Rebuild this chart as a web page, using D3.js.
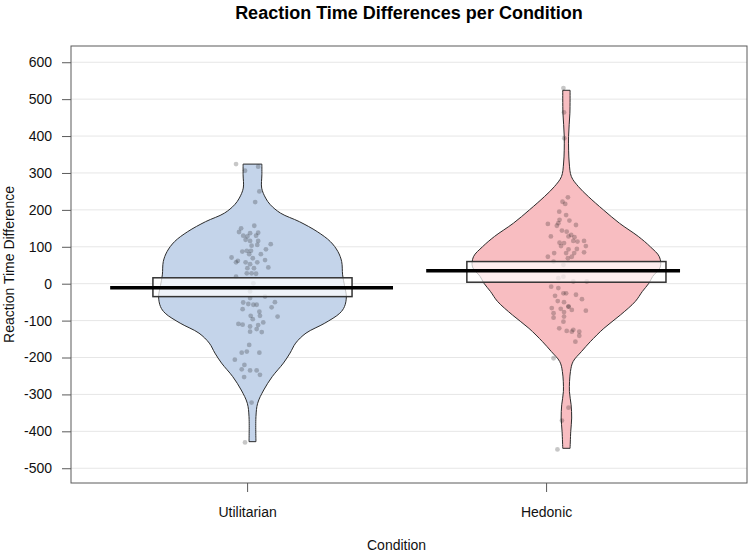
<!DOCTYPE html>
<html>
<head>
<meta charset="utf-8">
<script src="https://cdn.jsdelivr.net/npm/d3@7"></script>
<style>
    body { margin: 0; background: #fff; }
    svg { display: block; font-family: "Liberation Sans", Arial, sans-serif; }
</style>
</head>
<body>
<div id="container"></div>
<script>
// data

const conditions = ['Utilitarian', 'Hedonic']
const yTicks = [600, 500, 400, 300, 200, 100, 0, -100, -200, -300, -400, -500]

const means = [-11, 35]
const infLow = [-35, 4]
const infHigh = [16, 60]

// bean outline: [value, relative density]
const utilDensity = [
    [324, 0.10], [295, 0.10], [259, 0.098], [232, 0.14], [214, 0.19], [191, 0.30],
    [168, 0.50], [141, 0.69], [114, 0.83], [87, 0.91], [60, 0.95], [24, 0.96],
    [-5, 0.98], [-35, 1.0], [-62, 0.98], [-80, 0.93], [-107, 0.77], [-134, 0.57],
    [-161, 0.46], [-188, 0.40], [-215, 0.33], [-252, 0.21], [-288, 0.12],
    [-324, 0.055], [-360, 0.037], [-428, 0.037]
]
const hedDensity = [
    [524, 0.039], [462, 0.037], [399, 0.023], [327, 0.03], [290, 0.053], [263, 0.128],
    [236, 0.234], [200, 0.394], [164, 0.564], [128, 0.766], [100, 0.894], [73, 0.99],
    [45, 1.0], [20, 0.92], [1, 0.878], [-21, 0.809], [-48, 0.734], [-85, 0.574],
    [-121, 0.399], [-157, 0.255], [-184, 0.16], [-211, 0.071], [-238, 0.043],
    [-292, 0.032], [-328, 0.05], [-364, 0.056], [-401, 0.046], [-446, 0.039]
]

// raw observations and their horizontal jitter (category units)
const utilValues = [
    324, 306, 317, 250, 221, 157, 150, 140, 137, 138, 130, 128, 130, 119, 116, 116,
    103, 105, 107, 93, 87, 89, 89, 80, 80, 71, 69, 62, 58, 58, 58, 53, 64, 44, 42, 42,
    28, 28, 27, 19, 1, -21, -35, -39, -51, -55, -57, -57, -50, -69, -64, -76, -87, -87,
    -89, -96, -109, -111, -116, -112, -105, -123, -130, -131, -166, -187, -184, -187,
    -206, -220, -232, -235, -235, -247, -253, -322, -430
]
const utilJitter = [
    -0.055, -0.025, 0.019, 0.023, 0.009, 0.006, -0.038, -0.045, -0.008, 0.019, -0.031, -0.017,
    0.012, -0.023, -0.008, 0.019, -0.003, 0.016, 0.061, 0.045, -0.034, -0.019, -0.005, -0.011,
    0.028, -0.070, 0.001, -0.049, -0.055, -0.023, 0.016, -0.008, 0.042, 0.053, -0.017, 0.005,
    -0.019, -0.003, 0.012, -0.055, 0.003, -0.008, 0.042, -0.008, -0.031, -0.014, 0.003, 0.014,
    0.075, -0.033, 0.064, 0.023, -0.006, 0.025, 0.084, 0.001, -0.047, -0.033, -0.008, 0.019,
    0.036, 0.014, -0.008, 0.031, -0.011, -0.036, -0.019, 0.023, -0.059, -0.027, -0.036, -0.008,
    0.014, 0.025, -0.028, -0.003, -0.025
]
const hedValues = [
    530, 464, 394, 234, 222, 216, 195, 186, 173, 171, 162, 164, 157, 159, 144, 141,
    128, 132, 128, 126, 111, 110, 114, 116, 116, 102, 102, 94, 93, 83, 73, 83, 83, 85,
    73, 69, 51, 60, 19, 6, 6, 15, -8, -12, -26, -26, -30, -33, -42, -47, -50, -62, -62,
    -66, -68, -71, -73, -80, -77, -92, -89, -103, -121, -128, -130, -125, -130, -141,
    -157, -202, -336, -371, -449
]
const hedJitter = [
    -0.010, -0.008, -0.007, 0.005, -0.013, -0.004, -0.024, -0.001, -0.023, 0.010, -0.062, -0.027,
    -0.032, 0.032, -0.015, 0.001, -0.052, 0.016, 0.007, 0.027, -0.023, -0.008, 0.037, 0.023,
    0.059, -0.018, 0.065, 0.035, 0.007, -0.041, -0.062, -0.001, 0.026, 0.059, 0.018, 0.005,
    -0.010, -0.043, -0.010, 0.023, 0.068, -0.027, -0.051, -0.027, -0.010, -0.001, 0.032, -0.038,
    0.052, -0.029, -0.008, 0.007, 0.007, -0.049, -0.019, 0.018, 0.065, -0.043, -0.008, -0.043,
    -0.008, -0.010, -0.024, 0.001, 0.018, 0.023, 0.043, 0.043, 0.030, -0.043, 0.007, -0.015,
    -0.030
]

const densities = [utilDensity, hedDensity]
const values = [utilValues, hedValues]
const jitters = [utilJitter, hedJitter]

// chart

const width = 749
const height = 554
const box = { left: 71, right: 747, top: 46, bottom: 483 }

const fills = ['#c4d4ea', '#f8bdc1']
const beanShift = [0.018, 0.068]   // beans sit a little right of their ticks
const beanWidth = 0.314
const infWidth = 0.333
const avgExtent = [[-0.458, 0.488], [-0.401, 0.448]]

const svg = d3.select('#container').append('svg')
    .attr('width', width).attr('height', height)

const x = d3.scaleLinear().domain([0.411, 2.672]).range([box.left, box.right])
const y = d3.scaleLinear().domain([-540, 644]).range([box.bottom, box.top])

// grid
svg.append('g').selectAll('line')
    .data(yTicks)
    .enter()
    .append('line')
    .attr('x1', box.left).attr('x2', box.right)
    .attr('y1', d => y(d)).attr('y2', d => y(d))
    .attr('stroke', '#e6e6e6')
    .attr('stroke-width', 1)

const groups = svg.append('g').selectAll('g')
    .data(conditions)
    .enter()
    .append('g')

groups.each(function (name, i) {
    const g = d3.select(this)
    const cx = i + 1 + beanShift[i]

    const bean = d3.area()
        .curve(d3.curveCatmullRom)
        .y(d => y(d[0]))
        .x0(d => x(cx - d[1] * beanWidth))
        .x1(d => x(cx + d[1] * beanWidth))

    g.append('path')
        .attr('d', bean(densities[i]))
        .attr('fill', fills[i])
        .attr('stroke', '#2b2b2b')
        .attr('stroke-width', 1)

    g.append('g').selectAll('circle')
        .data(values[i])
        .enter()
        .append('circle')
        .attr('cx', (d, k) => x(cx + jitters[i][k]))
        .attr('cy', d => y(d))
        .attr('r', 2.4)
        .attr('fill', '#000')
        .attr('fill-opacity', 0.22)

    g.append('rect')
        .attr('x', x(cx - infWidth))
        .attr('y', y(infHigh[i]))
        .attr('width', x(cx + infWidth) - x(cx - infWidth))
        .attr('height', y(infLow[i]) - y(infHigh[i]))
        .attr('fill', '#fff')
        .attr('fill-opacity', 0.72)
        .attr('stroke', '#333')
        .attr('stroke-width', 1.5)

    g.append('line')
        .attr('x1', x(i + 1 + avgExtent[i][0]))
        .attr('x2', x(i + 1 + avgExtent[i][1]))
        .attr('y1', y(means[i])).attr('y2', y(means[i]))
        .attr('stroke', '#000')
        .attr('stroke-width', 3.5)
})

// frame
svg.append('rect')
    .attr('x', box.left).attr('y', box.top)
    .attr('width', box.right - box.left)
    .attr('height', box.bottom - box.top)
    .attr('fill', 'none')
    .attr('stroke', '#5a5a5a')
    .attr('stroke-width', 1)

// axes
const yAxis = d3.axisLeft(y).tickValues(yTicks).tickSize(9).tickPadding(10)
    .tickFormat(d => String(d))
const yg = svg.append('g')
    .attr('transform', `translate(${box.left}, 0)`)
    .call(yAxis)
yg.select('.domain').remove()
yg.selectAll('line').attr('stroke', '#5a5a5a')
yg.selectAll('text').attr('font-size', 14).attr('font-family', null).attr('fill', '#111')

const xAxis = d3.axisBottom(x).tickValues([1, 2]).tickSize(9).tickPadding(15)
    .tickFormat(d => conditions[d - 1])
const xg = svg.append('g')
    .attr('transform', `translate(0, ${box.bottom})`)
    .call(xAxis)
xg.select('.domain').remove()
xg.selectAll('line').attr('stroke', '#5a5a5a')
xg.selectAll('text').attr('font-size', 14).attr('font-family', null).attr('fill', '#111')

// labels
svg.append('text')
    .attr('x', (box.left + box.right) / 2)
    .attr('y', 19)
    .attr('text-anchor', 'middle')
    .attr('font-size', 18)
    .attr('font-weight', 'bold')
    .attr('fill', '#000')
    .text('Reaction Time Differences per Condition')

svg.append('text')
    .attr('transform', `translate(14, ${(box.top + box.bottom) / 2}) rotate(-90)`)
    .attr('text-anchor', 'middle')
    .attr('font-size', 14)
    .attr('fill', '#111')
    .text('Reaction Time Difference')

svg.append('text')
    .attr('x', x(1.5))
    .attr('y', 550)
    .attr('text-anchor', 'middle')
    .attr('font-size', 14)
    .attr('fill', '#111')
    .text('Condition')
</script>
</body>
</html>
